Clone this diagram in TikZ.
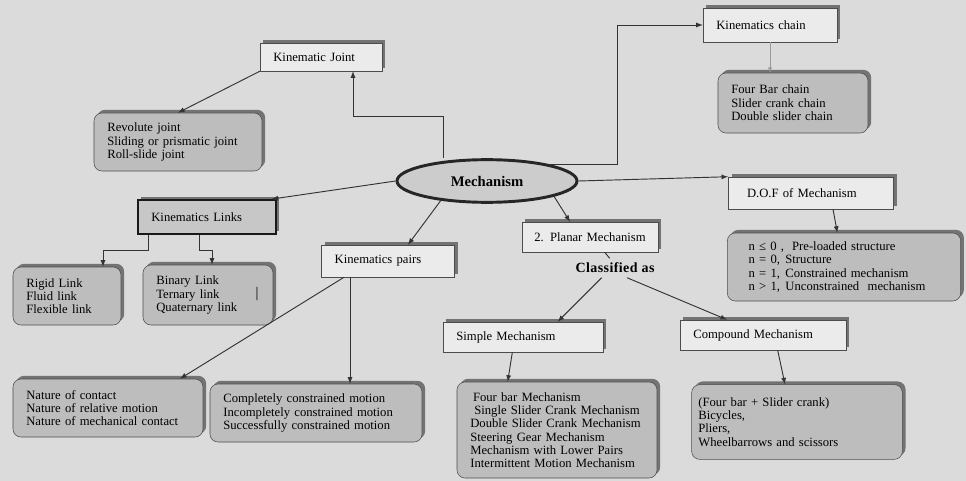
\documentclass[tikz,border=0pt]{standalone}
\usepackage{fontspec}
\setmainfont{Liberation Serif}
\usetikzlibrary{
	arrows,
	shadows,
	shapes.geometric,
	positioning
}

\begin{document}
\begin{tikzpicture}
[x=0.75pt,y=-0.75pt,
box/.style={rectangle,draw=black!70,fill=black!8,thin,align=left,inner xsep=10pt,
  font=\fontsize{9.5}{10}\selectfont,
  general shadow={shadow xshift=2.4pt,shadow yshift=2.4pt,fill=black!55}},
list/.style={box,rounded corners=6pt,fill=black!26},
link/.style={-latex,draw=black!80,line width=0.7pt}]
\fill[black!14] (0,0) rectangle (966,481);
% centre
\node (mech) at (487,181) [ellipse,draw=black!85,line width=2.2pt,fill=black!20,
  minimum width=135pt,minimum height=32pt,inner sep=0pt,
  font=\bfseries\fontsize{11}{12}\selectfont] {Mechanism};
% joints
\node (joint) at (321,57) [box,text width=71.5pt,minimum height=21pt] {Kinematic Joint};
\node (jointlist) at (178,142) [list,text width=106pt,minimum height=43.5pt]
  {Revolute joint\\Sliding or prismatic joint\\Roll-slide joint};
% links
\node (links) at (207,217) [box,draw=black!90,line width=1.3pt,fill=black!22,
  text width=83.5pt,minimum height=25.5pt] {Kinematics Links};
\node (rigid) at (67,296) [list,text width=61pt,minimum height=43.5pt]
  {Rigid Link\\Fluid link\\Flexible link};
\node (binary) at (208,295) [list,text width=77.5pt,minimum height=45pt]
  {Binary Link\\Ternary link\\Quaternary link};
\node (bar) at (257,294) [font=\fontsize{11}{12}\selectfont] {|};
% pairs
\node (pairs) at (388,261) [box,text width=80pt,minimum height=24pt] {Kinematics pairs};
\node (nature) at (108,408) [list,text width=122.5pt,minimum height=43.5pt]
  {Nature of contact\\Nature of relative motion\\Nature of mechanical contact};
\node (motion) at (316,413) [list,text width=139pt,minimum height=43.5pt]
  {Completely constrained motion\\Incompletely constrained motion\\Successfully constrained motion};
% planar
\node (planar) at (590,237) [box,inner xsep=9pt,text width=84pt,align=center,
  minimum height=22.5pt] {2. Planar Mechanism};
\node (classified) at (615,268) [font=\bfseries\fontsize{10.5}{12}\selectfont\addfontfeature{LetterSpace=3}]
  {Classified as};
\node (simple) at (523,337) [box,text width=100pt,minimum height=22.5pt] {Simple Mechanism};
\node (compound) at (763,335) [box,text width=104.5pt,minimum height=22.5pt] {Compound Mechanism};
\node (simplelist) at (557,430) [list,text width=130pt,minimum height=72pt]
  {\hspace{2pt}Four bar Mechanism\\\hspace{3pt}Single Slider Crank Mechanism\\Double Slider Crank Mechanism\\
   Steering Gear Mechanism\\Mechanism with Lower Pairs\\Intermittent Motion Mechanism};
\node (compoundlist) at (797,422) [list,inner xsep=5pt,text width=148pt,minimum height=56pt]
  {(Four bar + Slider crank)\\Bicycles,\\Pliers,\\Wheelbarrows and scissors};
% chain
\node (chain) at (770,25) [box,text width=80.5pt,minimum height=25.5pt] {Kinematics chain};
\node (chainlist) at (793,103) [list,text width=92.5pt,minimum height=45pt]
  {Four Bar chain\\Slider crank chain\\Double slider chain};
% dof
\node (dof) at (811,193) [box,inner xsep=14pt,text width=96pt,minimum height=24pt] {D.O.F of Mechanism};
\node (doflist) at (844,267) [list,inner xsep=16pt,text width=143pt,minimum height=51pt]
  {n ≤ 0 ,\hspace{6pt}Pre-loaded structure\\n = 0,\hspace{4pt}Structure\\
   n = 1,\hspace{4pt}Constrained mechanism\\n > 1,\hspace{4pt}Unconstrained\ \ mechanism};
% connectors
\coordinate (k1) at (443,116);
\coordinate (k2) at (353,116);
\draw[link] (mech.north -| k1) -- (k1) -- (k2) -- (joint.south -| k2);
\draw[link] (joint.south west) -- (jointlist.north);
\draw[link] (mech.west) -- ([xshift=-4pt]links.north east);
\coordinate (l1) at (148,250);
\coordinate (l2) at (103,250);
\draw[link] (links.south -| l1) -- (l1) -- (l2) -- (rigid.north -| l2);
\coordinate (l3) at (199,250);
\coordinate (l4) at (212,250);
\draw[link] (links.south -| l3) -- (l3) -- (l4) -- (binary.north -| l4);
\draw[link] (mech.203) -- ([xshift=15pt]pairs.north);
\draw[link] ([xshift=-33pt]pairs.south) -- ([xshift=54pt]nature.north);
\coordinate (p1) at ([xshift=-28.5pt]pairs.south);
\draw[link] (p1) -- (p1 |- motion.north);
\draw[link] (mech.-13) -- ([xshift=-15pt]planar.north);
\draw[draw=black!80,line width=0.7pt] ([xshift=11pt]planar.south) -- ([xshift=-4pt]classified.north);
\draw[link] ([xshift=-10pt]classified.south) -- ([xshift=26pt]simple.north);
\draw[link] ([xshift=9pt]classified.south) -- ([xshift=-27pt]compound.north);
\draw[link] ([xshift=-8pt]simple.south) -- ([xshift=-37pt]simplelist.north);
\draw[link] ([xshift=11pt]compound.south) -- ([xshift=-9pt]compoundlist.north);
\coordinate (c1) at (617,25);
\draw[link] (mech.15) -| (c1) -- (chain.west);
\draw[link,draw=black!40,thin] (chain.south) -- (chain.south |- chainlist.north);
\draw[link] (mech.east) -- (dof.north west);
\draw[link] ([xshift=16.5pt]dof.south) -- ([xshift=-5pt]doflist.north);
\end{tikzpicture}
\end{document}
